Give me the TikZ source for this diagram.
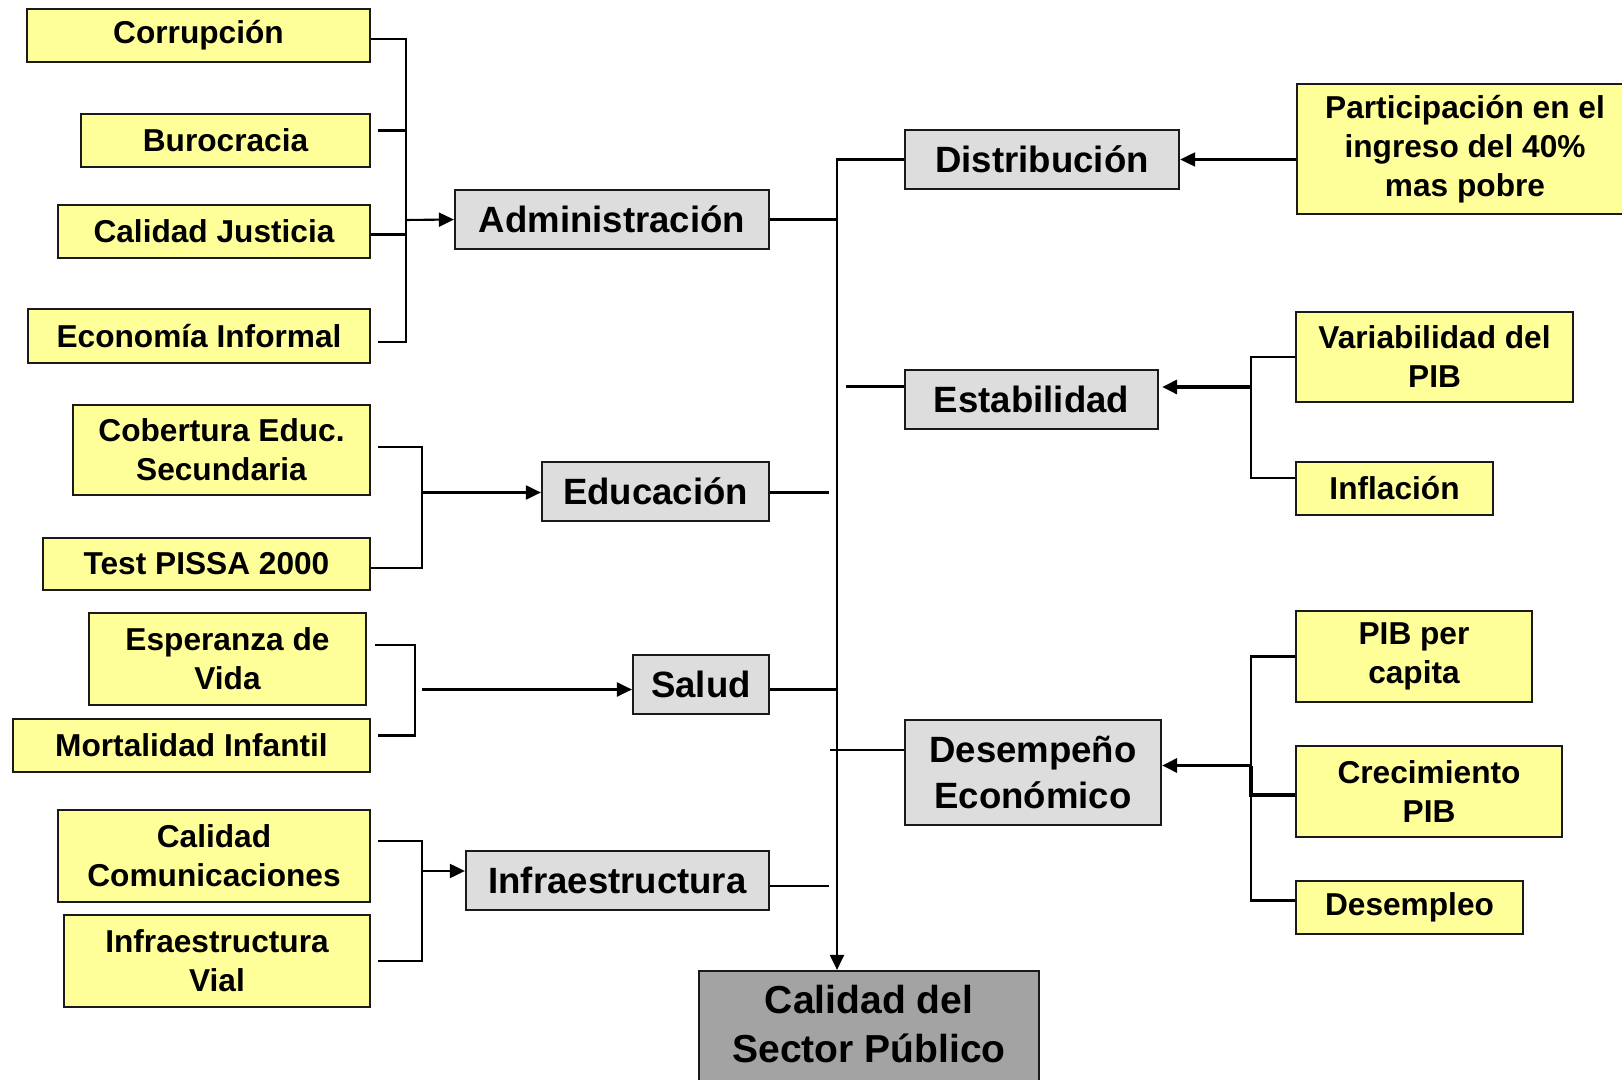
\documentclass[tikz,border=0pt]{standalone}
\usepackage{fontspec}
\setmainfont{Liberation Sans}
\usepackage{xcolor}
\usepackage{tikz}
\usetikzlibrary{positioning, arrows.meta, calc}

\definecolor{amarillo}{HTML}{FFFF99}
\definecolor{grisclaro}{HTML}{DDDDDD}
\definecolor{grisoscuro}{HTML}{A3A3A3}
\definecolor{borde}{HTML}{1A1A1A}

\tikzset{
  indicador/.style={draw=borde, fill=amarillo, inner sep=0pt, align=center,
    font=\fontsize{9}{11.1}\selectfont\bfseries},
  dimension/.style={draw=borde, fill=grisclaro, inner sep=0pt, align=center,
    font=\fontsize{10.4}{13.3}\selectfont\bfseries},
  flecha/.style={-{Triangle[length=0.15cm,width=0.14cm]}},
  grueso/.style={line width=0.9pt}
}

\begin{document}
\begin{tikzpicture}[x=0.01cm, y=-0.01cm, line width=0.6pt]
    \useasboundingbox (0,0) rectangle (1622,1080);

    % Indicadores izquierda
    \node[indicador, minimum width=3.43cm, minimum height=0.53cm] (corrup) at (198.5,35.5) {Corrupción};
    \node[indicador, minimum width=2.89cm, minimum height=0.53cm] (buro) at (225.5,140.5) {Burocracia};
    \node[indicador, minimum width=3.12cm, minimum height=0.53cm] (justicia) at (214,231.5) {Calidad Justicia};
    \node[indicador, minimum width=3.42cm, minimum height=0.54cm] (informal) at (199,336) {Economía Informal};
    \node[indicador, minimum width=2.97cm, minimum height=0.90cm] (cobert) at (221.5,450) {Cobertura Educ.\\Secundaria};
    \node[indicador, minimum width=3.27cm, minimum height=0.52cm] (pissa) at (206.5,564) {Test PISSA 2000};
    \node[indicador, minimum width=2.77cm, minimum height=0.92cm] (esper) at (227.5,659) {Esperanza de\\Vida};
    \node[indicador, minimum width=3.57cm, minimum height=0.53cm] (mortal) at (191.5,745.5) {Mortalidad Infantil};
    \node[indicador, minimum width=3.12cm, minimum height=0.92cm] (comunic) at (214,856) {Calidad\\Comunicaciones};
    \node[indicador, minimum width=3.06cm, minimum height=0.92cm] (vial) at (217,961) {Infraestructura\\Vial};

    % Dimensiones
    \node[dimension, minimum width=3.14cm, minimum height=0.59cm] (admin) at (612,219.5) {Administración};
    \node[dimension, minimum width=2.27cm, minimum height=0.59cm] (educ) at (655.5,491.5) {Educación};
    \node[dimension, minimum width=1.36cm, minimum height=0.59cm] (salud) at (701,684.5) {Salud};
    \node[dimension, minimum width=3.03cm, minimum height=0.59cm] (infra) at (617.5,880.5) {Infraestructura};
    \node[dimension, minimum width=2.74cm, minimum height=0.59cm] (distrib) at (1042,159.5) {Distribución};
    \node[dimension, minimum width=2.53cm, minimum height=0.59cm] (estab) at (1031.5,399.5) {Estabilidad};
    \node[dimension, minimum width=2.56cm, minimum height=1.05cm] (desemp) at (1033,772.5) {Desempeño\\Económico};

    % Resultado
    \node[dimension, fill=grisoscuro, minimum width=3.40cm, minimum height=1.20cm, text depth=0.15cm,
      font=\fontsize{11.1}{13.9}\selectfont\bfseries] (calidad) at (869,1031) {Calidad del\\Sector Público};

    % Indicadores derecha
    \node[indicador, minimum width=3.36cm, minimum height=1.30cm] (partic) at (1465,149) {Participación en el\\ingreso del 40\%\\mas pobre};
    \node[indicador, minimum width=2.77cm, minimum height=0.90cm] (variab) at (1434.5,357) {Variabilidad del\\PIB};
    \node[indicador, minimum width=1.97cm, minimum height=0.53cm] (inflac) at (1394.5,488.5) {Inflación};
    \node[indicador, minimum width=2.36cm, minimum height=0.91cm] (pibpc) at (1414,656.5) {PIB per\\capita};
    \node[indicador, minimum width=2.66cm, minimum height=0.91cm] (crecim) at (1429,791.5) {Crecimiento\\PIB};
    \node[indicador, minimum width=2.27cm, minimum height=0.53cm] (desempleo) at (1409.5,907.5) {Desempleo};

    % Administracion
    \coordinate (jadm) at (406,220);
    \draw ([yshift=-0.035cm]corrup.east) -| (jadm);
    \draw[shorten <=0.07cm] ([yshift=0.1cm]buro.east) -| (jadm);
    \draw ([yshift=-0.03cm]justicia.east) -| (jadm);
    \draw[shorten <=0.07cm] ([yshift=-0.06cm]informal.east) -| (jadm);
    \draw[flecha] (jadm) -- (admin.west);

    % Educacion
    \coordinate (jedu) at (422,492.5);
    \draw[shorten <=0.07cm] ([yshift=0.03cm]cobert.east) -| (jedu);
    \draw ([yshift=-0.04cm]pissa.east) -| (jedu);
    \draw[flecha] (jedu) -- (jedu -| educ.west);

    % Salud
    \coordinate (bsal) at (415,690);
    \coordinate (jsal) at (422,689.5);
    \draw[shorten <=0.08cm] ([yshift=0.14cm]esper.east) -| (bsal);
    \draw[shorten <=0.07cm] ([yshift=0.1cm]mortal.east) -| (bsal);
    \draw[flecha] (jsal) -- (jsal -| salud.west);

    % Infraestructura
    \coordinate (jinf) at (422,871);
    \draw[shorten <=0.07cm] ([yshift=0.15cm]comunic.east) -| (jinf);
    \draw[shorten <=0.07cm] (vial.east) -| (jinf);
    \draw[flecha] (jinf) -- (jinf -| infra.west);

    % Eje central
    \coordinate (spine) at (837,159.5);
    \draw[flecha] (distrib.west) -- (spine) -- (spine |- calidad.north);
    \draw (admin.east) -- (admin.east -| spine);
    \draw[shorten >=0.08cm] ([yshift=-0.01cm]educ.east) -- ([yshift=-0.01cm]educ.east -| spine);
    \draw ([yshift=-0.05cm]salud.east) -- ([yshift=-0.05cm]salud.east -| spine);
    \draw[shorten >=0.08cm] ([yshift=-0.055cm]infra.east) -- ([yshift=-0.055cm]infra.east -| spine);
    \draw[grueso, shorten >=0.09cm] ([yshift=0.13cm]estab.west) -- ([yshift=0.13cm]estab.west -| spine);
    \draw[shorten >=-0.07cm] ([yshift=0.225cm]desemp.west) -- ([yshift=0.225cm]desemp.west -| spine);

    % Distribucion
    \draw[flecha] (partic.west |- distrib.east) -- (distrib.east);

    % Estabilidad
    \coordinate (jest) at (1251,387);
    \draw (variab.west) -| (jest);
    \draw ([yshift=0.105cm]inflac.west) -| (jest);
    \draw[flecha, grueso, shorten >=0.03cm] (jest) -- (jest -| estab.east);

    % Desempeno
    \coordinate (jdes) at (1251,765.5);
    \draw (pibpc.west) -| (jdes);
    \draw[grueso] ([yshift=-0.035cm]crecim.west) -| (jdes);
    \draw ([yshift=0.07cm]desempleo.west) -| (jdes);
    \draw[flecha, grueso] (jdes) -- (jdes -| desemp.east);
\end{tikzpicture}
\end{document}
